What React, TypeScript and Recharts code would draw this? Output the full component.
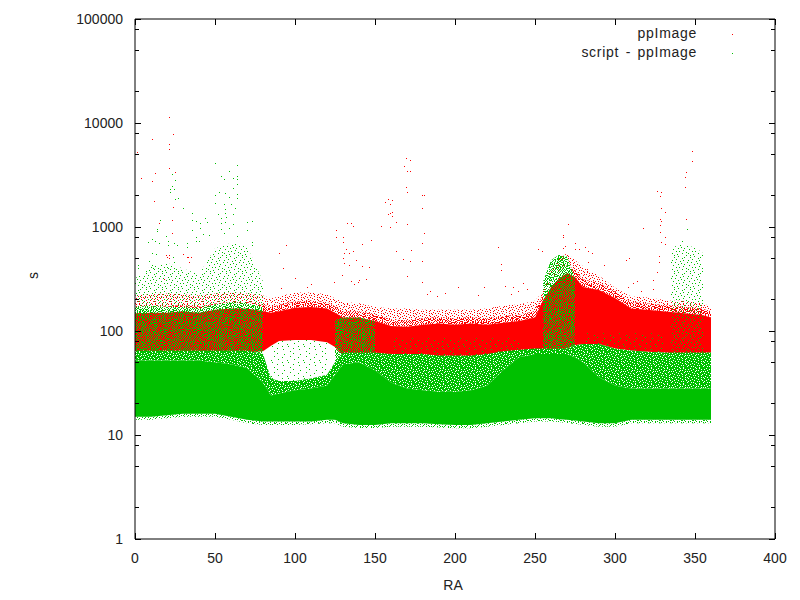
import { Area, ComposedChart, Legend, Scatter, XAxis, YAxis } from "recharts";

const raGrid = [0, 10, 20, 30, 40, 50, 60, 70, 80, 85, 90, 100, 110, 120, 125, 130, 140, 150, 160, 170, 180, 190, 200, 210, 220, 230, 240, 250, 255, 260, 265, 270, 275, 280, 290, 300, 310, 320, 330, 335, 340, 350, 355, 360];

// ppImage band
const redHaloTop = [220, 225, 230, 225, 220, 230, 235, 230, 220, 205, 215, 235, 235, 225, 205, 190, 185, 170, 165, 165, 160, 160, 160, 160, 165, 175, 180, 195, 240, 400, 500, 560, 480, 420, 340, 260, 215, 210, 200, 195, 195, 190, 185, 170];
const redEdgeTop = [170, 172, 172, 178, 172, 184, 190, 190, 178, 172, 178, 192, 195, 190, 172, 155, 155, 144, 129, 127, 132, 136, 132, 136, 132, 138, 144, 155, 225, 310, 375, 430, 385, 315, 290, 240, 190, 184, 178, 175, 172, 167, 163, 155];
const redTop = [148, 150, 150, 155, 150, 160, 165, 165, 155, 150, 155, 167, 170, 165, 150, 135, 135, 125, 112, 110, 115, 118, 115, 118, 115, 120, 125, 135, 198, 263, 320, 362, 330, 265, 248, 208, 165, 160, 155, 152, 150, 145, 142, 135];
const redBottom = [62, 62, 62, 62, 62, 62, 62, 62, 64, 72, 80, 82, 82, 78, 70, 58, 56, 57, 60, 60, 58, 56, 55, 55, 56, 58, 60, 62, 63, 64, 66, 68, 73, 75, 75, 68, 65, 63, 62, 61, 61, 61, 61, 62];

// script - ppImage band
const greenFringeLow = [14, 14, 14.5, 15, 15, 15, 14, 13, 12.5, 12.5, 12.5, 12.5, 12.7, 13, 13, 12, 11.7, 11.7, 12, 12, 12, 11.8, 11.6, 11.6, 12, 12.5, 13, 13.5, 13.5, 13.5, 13.3, 13, 12.8, 12.5, 12, 12, 13, 13, 13, 13, 13, 13, 13, 13];
const greenBottom = [15, 15, 15.5, 16, 16, 16, 15, 14, 13.5, 13.5, 13.5, 13.5, 13.5, 14, 14, 13, 12.5, 12.5, 13, 13, 13, 12.7, 12.5, 12.5, 13, 13.5, 14, 14.5, 14.5, 14.5, 14.2, 14, 13.8, 13.5, 13, 13, 14, 14, 14, 14, 14, 14, 14, 14];
const greenTop = [52, 52, 52, 52, 52, 50, 48, 44, 32, 24, 25, 27, 28, 30, 38, 48, 50, 42, 32, 28, 27, 26, 26, 27, 30, 42, 56, 60, 60, 60, 60, 60, 56, 50, 36, 30, 28, 28, 28, 28, 28, 28, 28, 28];
const greenSpeckTop = [65, 65, 65, 65, 65, 65, 65, 65, 60, 35, 33, 33, 35, 38, 50, 62, 62, 62, 60, 60, 60, 58, 58, 58, 60, 64, 66, 68, 68, 68, 68, 68, 73, 75, 75, 68, 65, 63, 62, 62, 62, 62, 62, 62];
const greenMixTop = [170, 175, 170, 170, 165, 180, 190, 185, 170, null, null, null, null, null, 130, 135, 135, 125, null, null, null, null, null, null, null, null, null, null, 300, 480, 540, 520, 320, null, null, null, null, null, null, null, null, null, null, null];
const greenSparseTop = [320, 420, 450, 400, 350, 620, 700, 650, 300, null, null, null, null, null, null, null, null, null, null, null, null, null, null, null, null, null, null, null, null, null, null, null, null, null, null, null, null, null, null, 620, 680, 640, 560, null];
const greenTraceTop = [null, null, null, null, null, null, null, null, null, 72, 80, 82, 82, 78, null, null, null, null, 85, 85, 85, 85, 85, 85, 85, 85, 85, null, null, null, null, null, null, 95, 95, 95, 95, 95, 95, null, null, null, null, null];

const redOutliers = [
  [21.5, 11350], [24, 7780], [1, 8070], [10.8, 6970], [21.5, 6280], [21.5, 5620], [1, 5250], [21.5, 3690], [25, 3370], [12.7, 3300], [4, 2960], [10.8, 2760], [12, 1780], [24, 1550], [23, 1170], [15, 1100], [23, 870], [19.6, 537], [20, 520], [21.5, 537], [21.5, 500], [30, 550], [32.5, 513], [33, 520], [35, 513], [34, 460], [18, 316],
  [125.6, 930], [125.6, 800], [132.6, 1100], [135, 1100], [136.5, 1020], [130, 800], [130, 716], [142, 690], [147.5, 750], [154, 1020], [159.5, 1000], [132, 616], [130.6, 562], [134, 562], [136.3, 589], [130, 500], [130.6, 447], [138, 480], [134, 431], [142, 422], [146, 412], [129.5, 347], [124.5, 295], [135, 302], [140, 309], [144.5, 316], [137, 282], [139.5, 295],
  [94.5, 676], [90, 562], [92.7, 404], [100, 323], [110, 282], [107.5, 263], [91.3, 257],
  [169.5, 4570], [172, 4390], [168, 3850], [170, 3450], [172, 3450], [169.5, 2430], [170, 2170], [158, 1860], [160.6, 1820], [156.5, 1740], [159.5, 1660], [160.6, 1400], [159.5, 1365], [158, 1335], [160.6, 1270], [163, 1120], [170, 1070], [179.5, 2040], [180.6, 2040], [179.5, 1510], [180.6, 870], [179.5, 700], [163, 589], [172.5, 600], [179.5, 468], [167.5, 490], [172, 468], [170, 339], [179.5, 295],
  [348, 5370], [348.3, 4280], [344.6, 3390], [344, 3020], [344, 2430], [326.5, 2210], [329, 2170], [328, 2000], [329, 1510], [331, 1400], [328, 1200], [329, 1150], [328, 1050], [344.6, 1200], [317.6, 980], [328, 890], [331, 800], [329, 716], [331.5, 690], [270.8, 1070], [267.7, 840], [267.7, 800], [226.7, 645], [228.7, 440], [228.7, 386], [327.7, 525], [327.7, 460], [308.8, 500], [307, 480], [326.5, 369], [314, 302], [324, 309], [311, 288], [202, 263], [218, 263], [231, 269], [236.4, 263], [242.7, 288], [214.5, 221], [194, 232], [184.6, 245], [182.6, 226], [188.8, 217], [235, 226], [239.4, 243], [245, 251], [308, 263], [316, 243], [324, 251], [293, 431], [252, 616], [283, 460], [285.6, 562], [283, 589], [281, 645], [277.7, 616], [274.7, 700], [274.7, 616], [269, 660], [267.7, 630], [254.6, 589],
];

const greenOutliers = [
  [50, 4120], [64, 3950], [59, 3450], [54, 3090], [55.6, 2880], [61.3, 2950], [64, 3090], [64, 2880], [23, 3230], [25, 2820], [23, 2460], [22, 2320], [24.5, 2320], [22, 2170], [25, 1860], [27, 1900], [30, 1510], [35.6, 1365], [35.6, 1170], [38, 1150], [44, 1216], [40.6, 1100], [45, 1120], [40.6, 980], [35.6, 930], [38, 800], [38, 733], [40, 733], [42.6, 850], [46, 830],
  [15.6, 1170], [13.7, 955], [13.7, 910], [15, 700], [8, 716], [10.8, 767], [12.7, 733], [19.6, 815], [20.6, 733], [20.6, 676], [24.5, 700], [26, 676], [32.5, 700], [32.5, 645], [10.8, 562], [13, 550], [8.7, 468], [2, 431], [10.8, 431], [11.2, 404], [2, 404], [24, 513], [24.5, 460], [20.6, 404],
  [52.7, 2170], [50, 2040], [56, 2110], [64, 2070], [64, 1900], [61.3, 2370], [64, 2570], [59, 1950], [60, 1660], [55.6, 1660], [50, 1700], [56, 1480], [62.6, 1510], [61.3, 1335], [56, 1365], [52, 1335], [54, 1216], [57, 1245], [56, 1120], [54, 1100], [61.3, 1070], [70, 1120], [73, 1150], [70, 930], [73, 716], [73, 676], [55.6, 870], [59, 980], [64, 815], [54, 955],
  [345, 950], [342, 740],
];

const xTicks = [0, 50, 100, 150, 200, 250, 300, 350, 400];
const yTicks = [1, 2, 5, 8, 10, 20, 50, 80, 100, 200, 500, 800, 1000, 2000, 5000, 8000, 10000, 20000, 50000, 80000, 100000];
const yLabels = [1, 10, 100, 1000, 10000, 100000];

const legendEntries = [
  { name: "ppImage", color: "#ff0000", top: 24 },
  { name: "script - ppImage", color: "#00c000", top: 43 },
];

const table = raGrid.map((ra, i) => ({
  ra,
  redHalo: [redEdgeTop[i], redHaloTop[i]],
  redEdge: [redTop[i], redEdgeTop[i]],
  red: [redBottom[i], redTop[i]],
  greenFringe: [greenFringeLow[i], greenBottom[i]],
  greenSolid: [greenBottom[i], greenTop[i]],
  greenSpeck: [greenTop[i], greenSpeckTop[i]],
  greenMix: greenMixTop[i] === null ? null : [greenSpeckTop[i], greenMixTop[i]],
  greenSparse: greenSparseTop[i] === null ? null : [greenMixTop[i] ?? greenSpeckTop[i], greenSparseTop[i]],
  greenTrace: greenTraceTop[i] === null ? null : [greenSpeckTop[i], greenTraceTop[i]],
}));

const toPoints = (list: number[][]) => list.map(([ra, value]) => ({ ra, value }));

// textures standing in for the overplotted dots
const tiles: Record<string, string[]> = {
  noiseA: [
    "#..#....#..",
    "..#..#....#",
    ".#.....#...",
    "....#.#..#.",
    "#.#.......#",
    "...#..#.#..",
    ".#....#...#",
    "#...#.....#",
    "..#...#.#..",
    ".....#....#",
    "#.#.#...#..",
    "...#....#.#",
    ".#...#.#...",
  ],
  noiseB: [
    ".#...#..#...#",
    "...#.....#.#.",
    "#....#.#.....",
    "..#.#.....#.#",
    ".#.....#.#...",
    "#..#.#.....#.",
    "......#.#...#",
    ".#.#.....#...",
    "#.....#....#.",
    "..#.#...#...#",
    "....#.#...#..",
  ],
  medium: [
    "..#.....#..#....",
    "#....#.......#..",
    "...#....#.#.....",
    ".#.....#.....#.#",
    "....#.......#...",
    "#.....#..#......",
    "..#.......#...#.",
    ".....#.#.....#..",
    ".#........#.....",
    "...#..#......#.#",
    "#.......#.......",
    "....#.....#..#..",
    "..#...#.......#.",
    "#........#.#....",
    "...#.#.........#",
    ".......#...#....",
  ],
  sparse: [
    "......#.........",
    "..#.........#...",
    "..........#.....",
    "....#...........",
    "#..........#....",
    "........#.......",
    "...#...........#",
    ".........#......",
    "......#.....#...",
    ".#..............",
    "...........#....",
    "....#..#........",
    "..............#.",
    "#.........#.....",
    ".....#..........",
    "..#...........#.",
  ],
  trace: [
    "................",
    ".....#..........",
    "............#...",
    "................",
    "..#.............",
    "..........#.....",
    "................",
    "......#.........",
    "...............#",
    "................",
    "#.........#.....",
    "................",
    ".....#..........",
    "...........#....",
    "................",
    "..#.............",
  ],
};

function Tile({ id, tile, color, background }: { id: string; tile: string[]; color: string; background?: string }) {
  const w = tile[0].length;
  const h = tile.length;
  return (
    <pattern id={id} patternUnits="userSpaceOnUse" width={w} height={h}>
      {background && <rect width={w} height={h} fill={background} />}
      {tile.map((row, y) =>
        row.split("").map((c, x) => (c === "#" ? <rect key={`${x}-${y}`} x={x} y={y} width={1} height={1} fill={color} shapeRendering="crispEdges" /> : null)),
      )}
    </pattern>
  );
}

const fontFamily = "'Liberation Sans', sans-serif";
const labelColor = "#222";

function tickY(side: "left" | "right") {
  return ({ x, y, payload }: any) => {
    const major = yLabels.includes(payload.value);
    const len = major ? 6 : 4;
    const dir = side === "left" ? 1 : -1;
    return (
      <g>
        <line x1={x} x2={x + dir * len} y1={y} y2={y} stroke="#000" shapeRendering="crispEdges" />
        {side === "left" && major && (
          <text x={x - 12} y={y + 5} textAnchor="end" fontSize={14} fontFamily={fontFamily} fill={labelColor}>
            {payload.value}
          </text>
        )}
      </g>
    );
  };
}

function tickX(side: "top" | "bottom") {
  return ({ x, y, payload }: any) => {
    const dir = side === "bottom" ? -1 : 1;
    return (
      <g>
        <line x1={x} x2={x} y1={y} y2={y + dir * 6} stroke="#000" shapeRendering="crispEdges" />
        {side === "bottom" && (
          <text x={x} y={y + 24} textAnchor="middle" fontSize={14} fontFamily={fontFamily} fill={labelColor}>
            {payload.value}
          </text>
        )}
      </g>
    );
  };
}

const dot = (color: string) => (props: any) => <rect x={Math.round(props.cx)} y={Math.round(props.cy)} width={1} height={1} fill={color} shapeRendering="crispEdges" />;

function LegendBox() {
  return (
    <div style={{ position: "absolute", left: 0, top: 0, width: 0, height: 0 }}>
      {legendEntries.map((e) => (
        <div key={e.name}>
          <span style={{ position: "absolute", right: -697, top: e.top, whiteSpace: "nowrap", fontSize: 14, lineHeight: "18px", letterSpacing: 0.7, wordSpacing: 2, fontFamily, color: labelColor }}>{e.name}</span>
          <span style={{ position: "absolute", left: 732, top: e.top + 10, width: 1, height: 1, background: e.color }} />
        </div>
      ))}
    </div>
  );
}

export default function App() {
  const area = (key: string, fill: string, id?: string) => (
    <Area key={id ?? key} dataKey={key} type="linear" stroke="none" fill={fill} fillOpacity={1} dot={false} activeDot={false} isAnimationActive={false} legendType="none" />
  );
  return (
    <div style={{ position: "absolute", left: 0, top: 0, width: 800, height: 600, background: "#fff" }}>
      <ComposedChart width={800} height={600} data={table} margin={{ top: 0, right: 0, bottom: 0, left: 0 }}>
        <defs>
          <Tile id="redSparse" tile={tiles.medium} color="#ff0000" />
          <Tile id="redNoiseA" tile={tiles.noiseA} color="#ff0000" />
          <Tile id="redNoiseB" tile={tiles.noiseB} color="#ff0000" />
          <Tile id="greenSpeck" tile={tiles.medium} color="#ffffff" background="#00c000" />
          <Tile id="greenNoiseA" tile={tiles.noiseA} color="#00c000" />
          <Tile id="greenNoiseB" tile={tiles.noiseB} color="#00c000" />
          <Tile id="greenSparse" tile={tiles.sparse} color="#00c000" />
          <Tile id="greenTrace" tile={tiles.trace} color="#00c000" />
        </defs>
        <XAxis xAxisId={0} dataKey="ra" type="number" domain={[0, 400]} ticks={xTicks} interval={0} height={61} tickSize={0} tickMargin={0} tickLine={false} stroke="#000" tick={tickX("bottom")} allowDataOverflow label={{ value: "RA", position: "insideBottom", offset: 10, dx: -2, fontSize: 14, fontFamily, fill: labelColor }} />
        <XAxis xAxisId="top" orientation="top" dataKey="ra" type="number" domain={[0, 400]} ticks={xTicks} interval={0} height={19} tickSize={0} tickMargin={0} tickLine={false} stroke="#000" tick={tickX("top")} allowDataOverflow />
        <YAxis yAxisId={0} scale="log" type="number" domain={[1, 100000]} ticks={yTicks} interval={0} width={135} tickSize={0} tickMargin={0} tickLine={false} stroke="#000" tick={tickY("left")} allowDataOverflow label={{ value: "s", angle: -90, position: "insideLeft", offset: 33, fontSize: 14, fontFamily, fill: labelColor }} />
        <YAxis yAxisId="right" orientation="right" scale="log" type="number" domain={[1, 100000]} ticks={yTicks} interval={0} width={25} tickSize={0} tickMargin={0} tickLine={false} stroke="#000" tick={tickY("right")} allowDataOverflow />
        {area("redHalo", "url(#redSparse)")}
        {area("redEdge", "url(#redNoiseA)", "redEdgeA")}
        {area("redEdge", "url(#redNoiseB)", "redEdgeB")}
        {area("red", "#ff0000")}
        {area("greenFringe", "url(#greenNoiseA)")}
        {area("greenSolid", "#00c000")}
        {area("greenSpeck", "url(#greenSpeck)")}
        {area("greenMix", "url(#greenNoiseA)", "greenMixA")}
        {area("greenMix", "url(#greenNoiseB)", "greenMixB")}
        {area("greenSparse", "url(#greenSparse)")}
        {area("greenTrace", "url(#greenTrace)")}
        <Scatter data={toPoints(redOutliers)} dataKey="value" shape={dot("#ff0000")} isAnimationActive={false} legendType="none" />
        <Scatter data={toPoints(greenOutliers)} dataKey="value" shape={dot("#00c000")} isAnimationActive={false} legendType="none" />
        <Legend content={LegendBox} wrapperStyle={{ position: "absolute", left: 0, top: 0, width: 0, height: 0 }} />
      </ComposedChart>
    </div>
  );
}
